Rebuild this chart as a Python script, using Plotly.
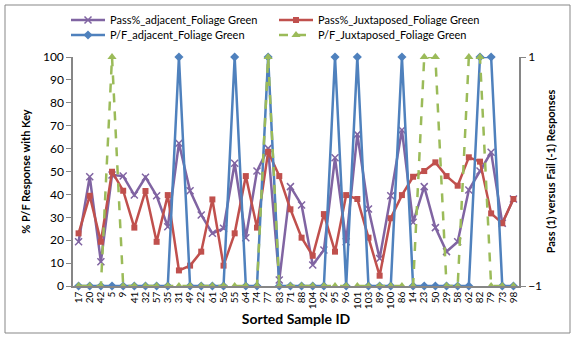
import plotly.graph_objects as go

categories = ["17","20","42","5","9","41","32","57","35","31","49","22","61","56","55","64","74","77","83","71",
              "88","104","92","95","96","101","103","89","100","86","14","23","50","29","58","62","82","79","73","98"]

pass_adjacent = [19.3,47.7,10.6,48.5,48.0,39.7,47.5,39.4,25.9,62.3,41.6,31.0,23.0,25.2,53.6,21.1,50.2,60.1,2.6,43.4,
                 35.4,9.2,15.7,56.0,19.3,66.2,33.6,12.0,39.4,68.1,27.8,43.4,25.5,15.0,19.3,41.9,50.2,58.4,27.4,38.0]
pass_juxtaposed = [23.0,39.4,19.3,49.9,41.6,25.5,41.5,19.3,39.7,6.8,8.9,15.0,37.8,8.9,23.0,48.0,25.5,58.6,48.0,33.5,
                   21.1,13.2,31.4,15.0,39.7,38.0,21.1,4.5,29.6,39.7,47.7,50.2,54.0,48.0,43.8,56.2,54.3,31.7,27.4,38.0]
pf_adjacent = [-1,-1,-1,-1,-1,-1,-1,-1,-1,1,-1,-1,-1,-1,1,-1,-1,1,-1,-1,
               -1,-1,-1,1,-1,1,-1,-1,-1,1,-1,-1,-1,-1,-1,-1,1,1,-1,-1]
pf_juxtaposed = [-1,-1,-1,1,-1,-1,-1,-1,-1,-1,-1,-1,-1,-1,-1,-1,-1,1,-1,-1,
                 -1,-1,-1,-1,-1,-1,-1,-1,-1,-1,-1,1,1,-1,-1,1,1,-1,-1,-1]

left_ticks = [0,10,20,30,40,50,60,70,80,90,100]
right_ticks = [-1, 1]

FONT = "Lato"
AX = "#868686"

fig = go.Figure()
fig.add_trace(go.Scatter(x=categories, y=pass_adjacent, name="Pass%_adjacent_Foliage Green", legend="legend",
                         mode="lines+markers", line=dict(color="#8064A2", width=2.5),
                         marker=dict(symbol="x-thin", size=7, line=dict(color="#8064A2", width=1.5)),
                         cliponaxis=False))
fig.add_trace(go.Scatter(x=categories, y=pass_juxtaposed, name="Pass%_Juxtaposed_Foliage Green", legend="legend",
                         mode="lines+markers", line=dict(color="#C0504D", width=2.5),
                         marker=dict(symbol="square", size=6, color="#C0504D"),
                         cliponaxis=False))
fig.add_trace(go.Scatter(x=categories, y=pf_adjacent, name="P/F_adjacent_Foliage Green", yaxis="y2", legend="legend2",
                         mode="lines+markers", line=dict(color="#4F81BD", width=2.5),
                         marker=dict(symbol="diamond", size=7, color="#4F81BD"),
                         cliponaxis=False))
fig.add_trace(go.Scatter(x=categories, y=pf_juxtaposed, name="P/F_Juxtaposed_Foliage Green", yaxis="y2", legend="legend2",
                         mode="lines+markers", line=dict(color="#9BBB59", width=2.5, dash="dash"),
                         marker=dict(symbol="triangle-up", size=8, color="#9BBB59"),
                         cliponaxis=False))

W, H = 575, 339
L, R, T, B = 73, 56, 57, 53
pw, ph = W - L - R, H - T - B

leg_common = dict(orientation="h", xanchor="left", yanchor="middle",
                  entrywidth=159, entrywidthmode="pixels",
                  font=dict(size=11, family=FONT), itemwidth=34,
                  bgcolor="rgba(0,0,0,0)")

fig.update_layout(
    width=W, height=H,
    margin=dict(l=L, r=R, t=T, b=B, autoexpand=False),
    paper_bgcolor="white", plot_bgcolor="white",
    font=dict(family=FONT, color="black", size=11),
    showlegend=True,
    legend=dict(x=(66 - L) / pw, y=1 + (T - 20) / ph, **leg_common),
    legend2=dict(x=(66 - L) / pw, y=1 + (T - 35) / ph, **leg_common),
    xaxis=dict(type="category", categoryorder="array", categoryarray=categories,
               tickmode="array", tickvals=categories, ticktext=categories,
               range=[-0.5, len(categories) - 0.5],
               showline=True, linecolor=AX, linewidth=1.5, showgrid=False, zeroline=False,
               ticks="", tickangle=-90, tickfont=dict(size=10, family=FONT),
               title=dict(text="<b>Sorted Sample ID</b>", font=dict(size=14, family=FONT), standoff=6)),
    yaxis=dict(range=[0, 100], tickvals=left_ticks, showline=True, linecolor=AX, linewidth=1.5,
               showgrid=False, zeroline=False, ticks="outside", ticklen=5, tickcolor=AX,
               tickfont=dict(size=12, family=FONT),
               title=dict(text="<b>% P/F Response with Key</b>", font=dict(size=11, family=FONT), standoff=10)),
    yaxis2=dict(range=[-1, 1], tickvals=right_ticks, overlaying="y", side="right",
                showline=True, linecolor=AX, linewidth=1.5, showgrid=False, zeroline=False,
                ticks="outside", ticklen=5, tickcolor=AX, tickfont=dict(size=12, family=FONT),
                title=dict(text="<b>Pass (1) versus Fail (-1) Responses</b>", font=dict(size=11, family=FONT), standoff=6)),
)

# chart border
fig.add_shape(type="rect", xref="paper", yref="paper",
              x0=(5 - L) / pw, x1=(570 - L) / pw,
              y0=1 - (333 - T) / ph, y1=1 - (5 - T) / ph,
              line=dict(color="#878787", width=1), fillcolor="rgba(0,0,0,0)", layer="below")

fig.write_html("out.html", config={"displayModeBar": False},
               post_script="document.body.style.margin='0';document.body.style.padding='0';")
